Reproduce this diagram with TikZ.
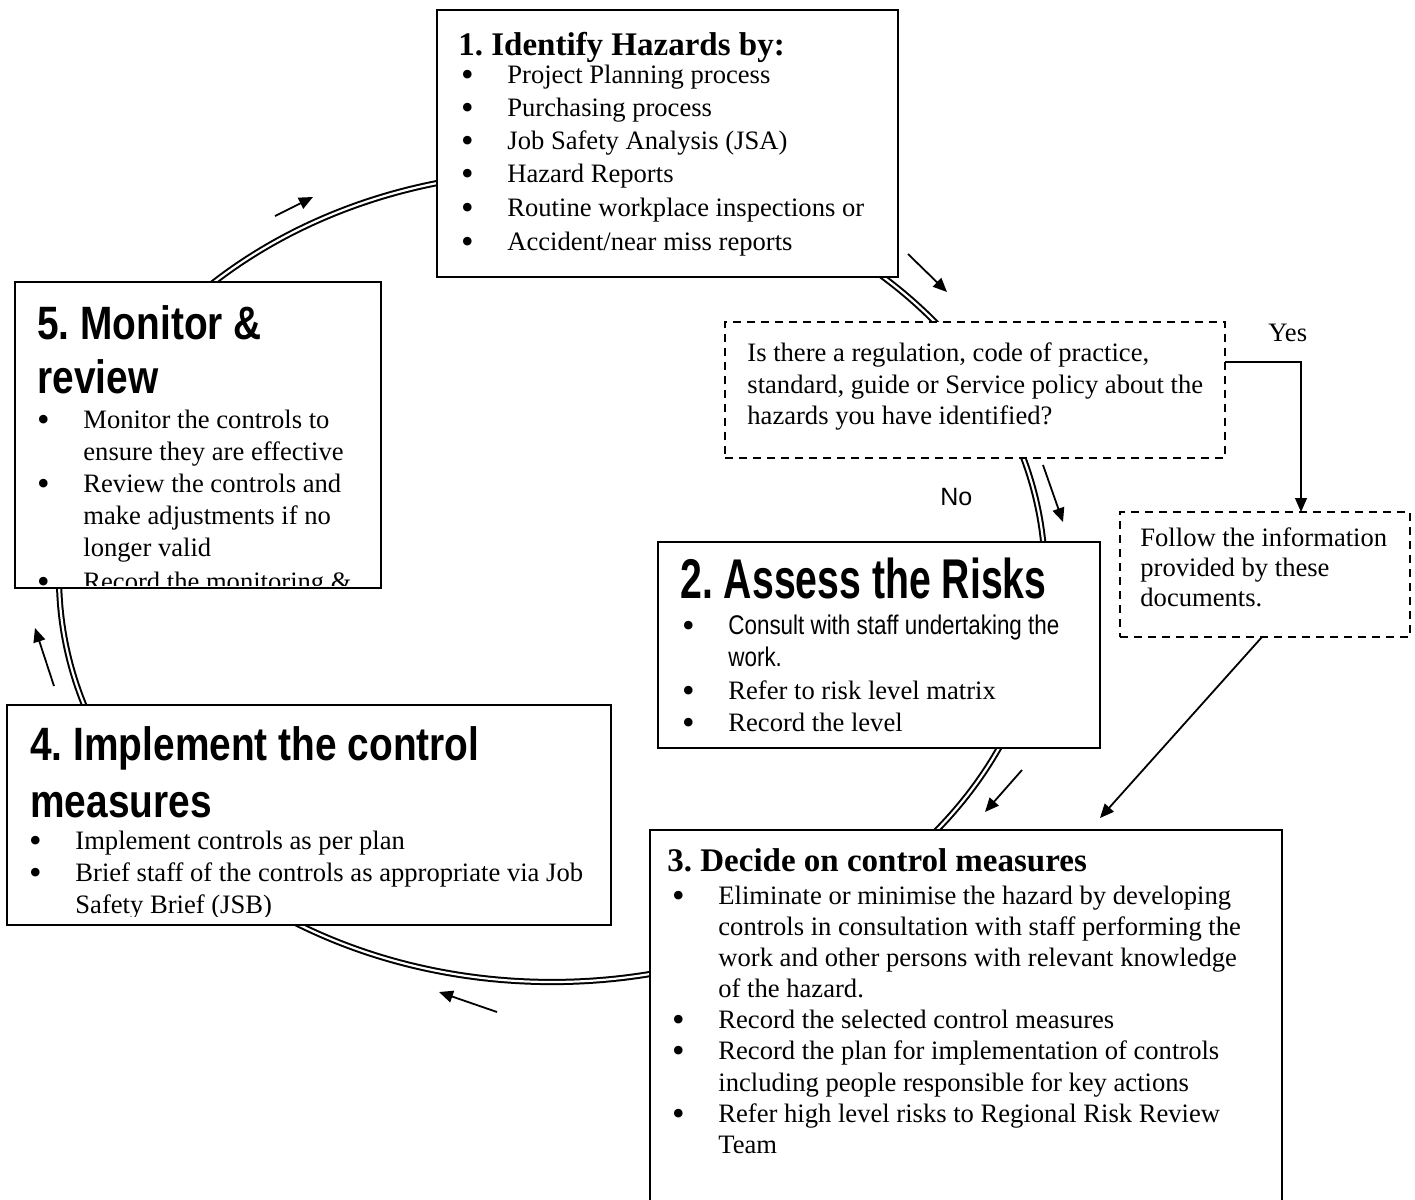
\documentclass[tikz,border=0pt]{standalone}
\usepackage{fontspec}
\usepackage{graphicx}
\setmainfont{Liberation Serif}
\newfontfamily\headfont[FakeStretch=0.83]{Liberation Sans}
\newfontfamily\headwide[FakeStretch=0.70]{Liberation Sans}
\newfontfamily\plainsans{Liberation Sans}
\usetikzlibrary{arrows.meta,positioning}
\frenchspacing

\newcommand{\bul}{\llap{\smash{\raisebox{-1.6pt}{\scalebox{1.35}{\textbullet}}}\hspace{16.9pt}}}
\newcommand{\narrowsans}{\headfont\fontsize{13.5pt}{16pt}\selectfont}

\tikzset{
  box/.style={draw, fill=white, line width=0.6pt, inner sep=0pt, outer sep=0pt, anchor=north west},
  qbox/.style={box, dash pattern=on 4pt off 3pt},
  head/.style={anchor=base west, inner sep=0pt},
  hsans/.style={head, font=\headfont\bfseries\fontsize{23.4pt}{24pt}\selectfont},
  hsanswide/.style={head, font=\headwide\bfseries\fontsize{28pt}{30pt}\selectfont},
  hserif/.style={head, font=\bfseries\fontsize{16.5pt}{18pt}\selectfont},
  bline/.style={head, font=\fontsize{13.3pt}{16pt}\selectfont},
  ring/.style={double, line width=1pt, double distance=1.1pt},
  flow/.style={-{Triangle[length=7pt, width=6pt]}, line width=0.9pt},
  link/.style={-{Triangle[length=7pt, width=6pt]}, line width=0.6pt}
}

\begin{document}
\begin{tikzpicture}[x=0.5pt, y=-0.5pt, line join=miter]
	\useasboundingbox (0,0) rectangle (1415,1200);

	% cycle ring behind the boxes
	\draw[ring] (552,577) ellipse [x radius=246.5pt, y radius=202.5pt];

	% 1. identify
	\node[box, minimum width=230.5pt, minimum height=133.5pt] (hazards) at (437,10) {};
	\node[hserif] (hazards-t) at (458,55) {1. Identify Hazards by:};
	\foreach \y/\t [count=\i] in {83/Project Planning process, 116/Purchasing process, 149/Job Safety Analysis (JSA), 182/Hazard Reports, 216/Routine workplace inspections or, 250/{Accident/near miss reports}}
		\node[bline] (hazards-\i) at (507,\y) {\bul\t};

	% 5. monitor
	\node[box, minimum width=183pt, minimum height=153pt] (monitor) at (15,282) {};
	\node[hsans] (monitor-t1) at (37,339) {5. Monitor \&};
	\node[hsans] (monitor-t2) at (37,393) {review};
	\begin{scope}
		\clip (monitor.north west) rectangle ([yshift=1.5pt]monitor.south east);
		\foreach \y/\t [count=\i] in {428/{\bul Monitor the controls to}, 460/ensure they are effective, 492/{\bul Review the controls and}, 524/make adjustments if no, 556/longer valid, 590/{\bul Record the monitoring \&}}
			\node[bline] (monitor-\i) at (83,\y) {\t};
	\end{scope}

	% question
	\node[qbox, minimum width=250pt, minimum height=68pt] (question) at (725,322) {};
	\foreach \y/\t [count=\i] in {361/{Is there a regulation, code of practice,}, 393/{standard, guide or Service policy about the}, 424/hazards you have identified?}
		\node[bline] (question-\i) at (747,\y) {\t};
	\node[bline] (yes) at (1268,341) {Yes};
	\node[head, font=\plainsans\fontsize{12.5pt}{14pt}\selectfont] (no) at (940,505) {No};

	% follow
	\node[qbox, minimum width=145pt, minimum height=62.5pt] (follow) at (1120,512) {};
	\foreach \y/\t [count=\i] in {546/Follow the information, 576/provided by these, 606/documents.}
		\node[bline] (follow-\i) at (1140,\y) {\t};

	% 2. assess
	\node[box, minimum width=221pt, minimum height=103pt] (assess) at (658,542) {};
	\node[hsanswide] (assess-t) at (680,598) {2. Assess the Risks};
	\foreach \y/\t [count=\i] in {634/{\bul\narrowsans Consult with staff undertaking the}, 666/{\narrowsans work.}, 699/{\bul Refer to risk level matrix}, 731/{\bul Record the level}}
		\node[bline] (assess-\i) at (728,\y) {\t};

	% 4. implement
	\node[box, minimum width=302pt, minimum height=110pt] (implement) at (7,705) {};
	\node[hsans] (implement-t1) at (30,760) {4. Implement the control};
	\node[hsans] (implement-t2) at (30,817) {measures};
	\begin{scope}
		\clip (implement.north west) rectangle ([yshift=4.5pt]implement.south east);
		\foreach \y/\t [count=\i] in {849/{\bul Implement controls as per plan}, 881/{\bul Brief staff of the controls as appropriate via Job}, 913/Safety Brief (JSB)}
			\node[bline] (implement-\i) at (75,\y) {\t};
	\end{scope}

	% 3. decide
	\node[box, minimum width=316pt, minimum height=200pt] (decide) at (650,830) {};
	\node[hserif] (decide-t) at (667,871) {3. Decide on control measures};
	\foreach \y/\t [count=\i] in {904/{\bul Eliminate or minimise the hazard by developing}, 935/controls in consultation with staff performing the, 966/work and other persons with relevant knowledge, 997/of the hazard., 1028/{\bul Record the selected control measures}, 1059/{\bul Record the plan for implementation of controls}, 1091/including people responsible for key actions, 1122/{\bul Refer high level risks to Regional Risk Review}, 1153/Team}
		\node[bline] (decide-\i) at (718,\y) {\t};

	% direction arrows round the ring
	\foreach \sx/\sy/\ex/\ey [count=\i] in {275/216/313/197, 908/254/947/292, 1043/465/1063/522, 1022/770/985/812, 497/1012/439/992, 54/686/35/628} {
		\coordinate (dir\i-s) at (\sx,\sy);
		\coordinate (dir\i-e) at (\ex,\ey);
		\draw[flow] (dir\i-s) -- (dir\i-e);
	}

	% yes branch
	\coordinate (yesturn) at (1301,362);
	\draw[link] (question.east |- yesturn) -- (yesturn) -- (yesturn |- follow.north);
	\coordinate (decide-in) at (1100,818);
	\draw[flow] ([xshift=-1.5pt]follow.south) -- (decide-in);
\end{tikzpicture}
\end{document}
